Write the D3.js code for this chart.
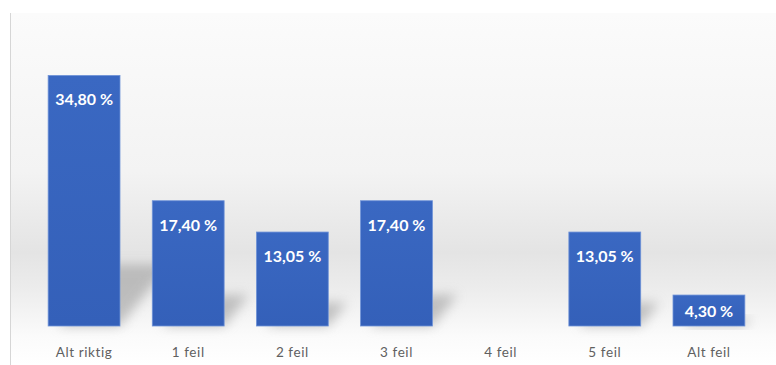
<!DOCTYPE html>
<html><head><meta charset="utf-8">
<script src="https://cdn.jsdelivr.net/npm/d3@7"></script>
<style>body{margin:0;background:#fff}svg{display:block}</style>
</head><body>
<svg id="c" width="776" height="365"></svg>
<script>
const categories = ["Alt riktig","1 feil","2 feil","3 feil","4 feil","5 feil","Alt feil"];
const values = [34.80, 17.40, 13.05, 17.40, 0, 13.05, 4.30];
const valueLabels = ["34,80 %","17,40 %","13,05 %","17,40 %","","13,05 %","4,30 %"];

const svg = d3.select("#c");
const W = 776, H = 365;
const base = 326;
const x = d3.scaleBand().domain(categories).range([32, 761]).paddingInner(0.31).paddingOuter(0.155);
const y = d3.scaleLinear().domain([0, 40]).range([base, 38]);

const defs = svg.append("defs");
const bg = defs.append("linearGradient").attr("id","bg").attr("x1",0).attr("x2",0).attr("y1",0).attr("y2",1);
[[0,"#fbfbfb"],[0.45,"#f3f3f3"],[0.68,"#e4e4e4"],[0.78,"#ececec"],[0.92,"#fbfbfb"],[1,"#ffffff"]]
  .forEach(([o,c])=>bg.append("stop").attr("offset",o).attr("stop-color",c));
const bar = defs.append("linearGradient").attr("id","bar").attr("x1",0).attr("x2",0).attr("y1",0).attr("y2",1);
bar.append("stop").attr("offset",0).attr("stop-color","#3a68c2");
bar.append("stop").attr("offset",1).attr("stop-color","#3460b9");
const blur = defs.append("filter").attr("id","blur").attr("x","-50%").attr("y","-50%").attr("width","200%").attr("height","200%");
blur.append("feGaussianBlur").attr("stdDeviation",6);

// plot area background
svg.append("rect").attr("x",10).attr("y",13).attr("width",W-10).attr("height",H-13).attr("fill","url(#bg)");
svg.append("line").attr("x1",10.5).attr("x2",10.5).attr("y1",13).attr("y2",H).attr("stroke","#d6d6d6").attr("stroke-width",1);

const data = categories.map((c,i)=>({c, v:values[i], t:valueLabels[i]})).filter(d=>d.v>0);

// shadows
svg.append("g").selectAll("path").data(data)
  .join("path")
  .attr("d", d=>{
    const x0 = x(d.c), x1 = x(d.c)+x.bandwidth();
    const h = base - y(d.v);
    const dy = Math.min(0.25*h, 62), dx = dy*0.8;
    return `M${x0+10},${base} L${x1},${base} L${x1+dx},${base-dy} L${x0+10+dx},${base-dy} Z`;
  })
  .attr("fill","#959595").attr("opacity",0.55).attr("filter","url(#blur)");

// bars
svg.append("g").selectAll("rect").data(data)
  .join("rect")
  .attr("x",d=>x(d.c)).attr("y",d=>y(d.v))
  .attr("width",x.bandwidth()).attr("height",d=>base-y(d.v))
  .attr("fill","url(#bar)").attr("stroke","#6f93d8").attr("stroke-width",0.8);

// value labels
svg.append("g").selectAll("text").data(data)
  .join("text")
  .attr("x",d=>x(d.c)+x.bandwidth()/2)
  .attr("y",d=>Math.min(y(d.v)+30, (y(d.v)+base)/2+6))
  .attr("text-anchor","middle")
  .attr("font-family","Lato, 'Open Sans', sans-serif").attr("font-weight","bold").attr("font-size",16)
  .attr("fill","#ffffff")
  .text(d=>d.t);

// x axis
const ax = svg.append("g").attr("transform",`translate(0,${base})`)
  .call(d3.axisBottom(x).tickSize(0).tickPadding(21));
ax.select(".domain").remove();
ax.selectAll("text").attr("font-family","Lato, 'Open Sans', sans-serif").attr("font-size",13.5)
  .attr("letter-spacing",0.6).attr("fill","#606060");
</script>
</body></html>
